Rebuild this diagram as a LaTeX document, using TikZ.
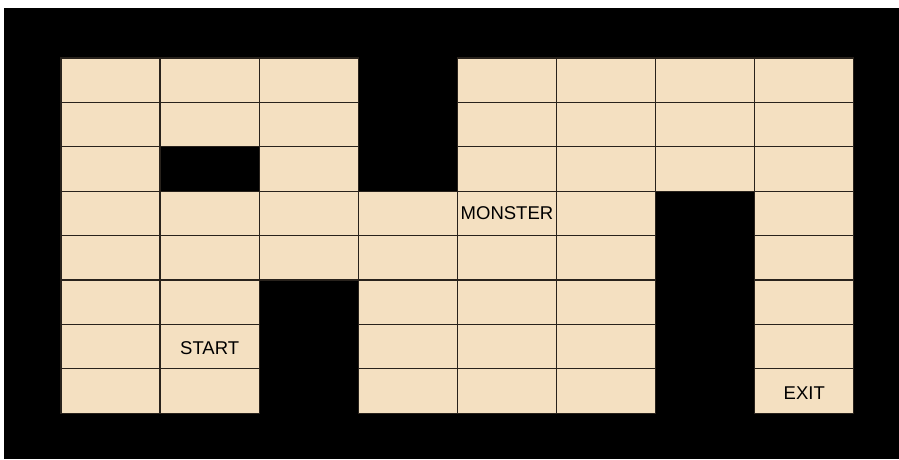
\documentclass[tikz,border=0pt]{standalone}
\usepackage{fontspec}
\setmainfont{Liberation Sans}
\definecolor{cellfill}{RGB}{244,224,193}
\definecolor{cellline}{RGB}{40,34,28}
\begin{document}
\begin{tikzpicture}[x=1pt,y=-1pt,
  cell/.style={draw=cellline,line width=1.3pt,fill=cellfill,minimum width=99.1pt,minimum height=44.4pt,inner sep=0pt,anchor=center},
  lbl/.style={font=\fontsize{18.5}{18.5}\selectfont,inner sep=0pt}]
\useasboundingbox (0,0) rectangle (899,459);
\fill[white] (0,0) rectangle (899,459);
\fill[black] (4,8) rectangle (899,459);
\foreach \r/\cols in {0/{0,1,2,4,5,6,7},1/{0,1,2,4,5,6,7},2/{0,2,4,5,6,7},3/{0,1,2,3,4,5,7},4/{0,1,2,3,4,5,7},5/{0,1,3,4,5,7},6/{0,1,3,4,5,7},7/{0,1,3,4,5,7}}{
  \foreach \c in \cols {
    \node[cell] (c\r\c) at ({61+(\c+0.5)*99.1},{58+(\r+0.5)*44.4}) {};
  }
}
\node[lbl] (monster) at (c34) {MONSTER};
\node[lbl] (start) at ([yshift=-1.5pt]c61.center) {START};
\node[lbl] (exit) at ([yshift=-2pt]c77.center) {EXIT};
\end{tikzpicture}
\end{document}
